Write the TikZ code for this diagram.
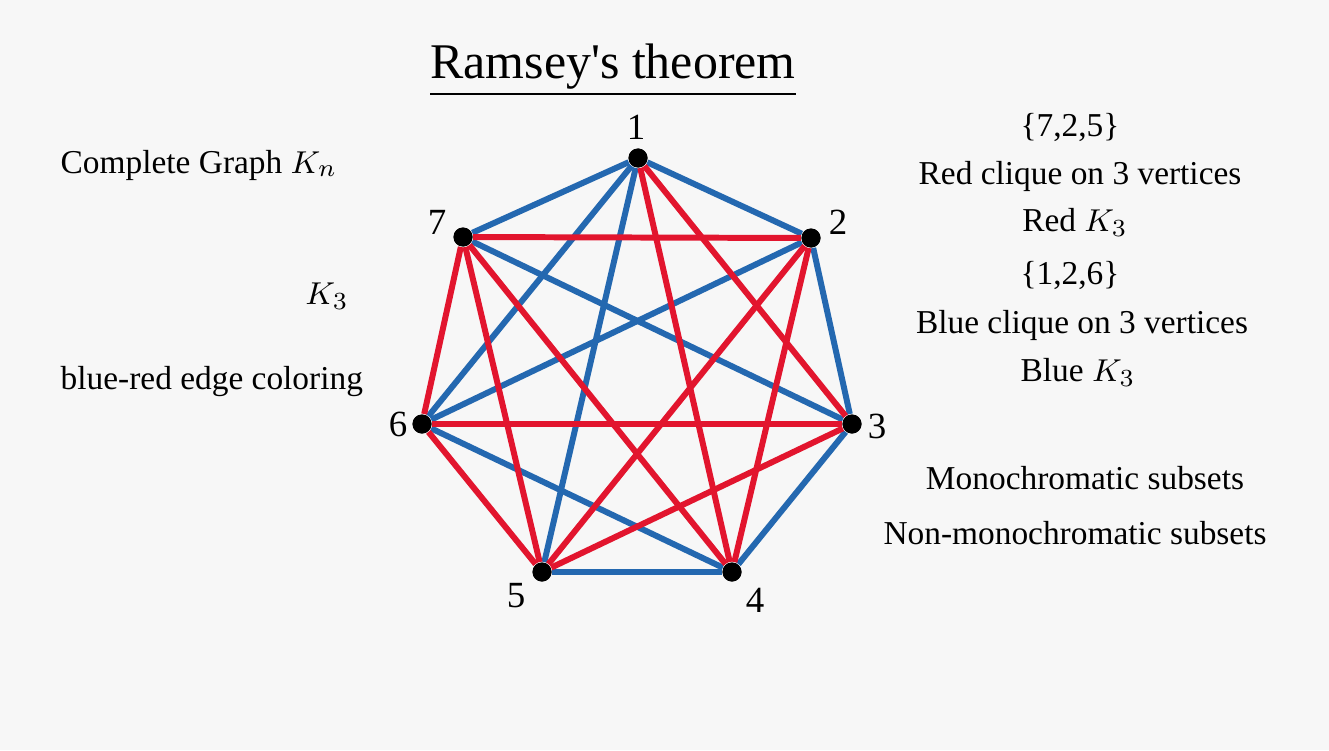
\documentclass[tikz,border=0pt]{standalone}
\usepackage{fontspec}
\setmainfont{Liberation Serif}
\usepackage{xcolor}
\usepackage{tikz}
\definecolor{edgeblue}{HTML}{2468B0}
\definecolor{edgered}{HTML}{E2152E}
\definecolor{paper}{HTML}{F7F7F7}

\begin{document}
\begin{tikzpicture}[
    vtx/.style={circle, fill=black, inner sep=0pt, minimum size=0.19cm},
    bedge/.style={draw=edgeblue, line width=1.7pt},
    redge/.style={draw=edgered, line width=1.7pt},
    num/.style={font=\fontsize{10.5}{12}\selectfont},
    txt/.style={font=\fontsize{9.5}{11}\selectfont, inner sep=0pt}]
  \fill[paper] (0,0) rectangle (13.29,7.5);
  \useasboundingbox (0,0) rectangle (13.29,7.5);

  % title
  \node (title) at (6.13,6.80) {\fontsize{14.2}{17}\selectfont\underline{Ramsey\textquotesingle s theorem}};

  % vertices of K_7
  \node[vtx] (v1) at (6.38,5.92) {};
  \node[vtx] (v2) at (8.11,5.12) {};
  \node[vtx] (v3) at (8.52,3.26) {};
  \node[vtx] (v4) at (7.32,1.78) {};
  \node[vtx] (v5) at (5.42,1.78) {};
  \node[vtx] (v6) at (4.22,3.26) {};
  \node[vtx] (v7) at (4.63,5.13) {};

  \node[num] (n1) at (6.36,6.23) {1};
  \node[num] (n2) at (8.38,5.28) {2};
  \node[num] (n3) at (8.77,3.24) {3};
  \node[num] (n4) at (7.55,1.50) {4};
  \node[num] (n5) at (5.16,1.54) {5};
  \node[num] (n6) at (3.98,3.26) {6};
  \node[num] (n7) at (4.37,5.28) {7};

  % blue edges
  \foreach \a/\b in {1/2,1/5,1/6,1/7,2/3,2/6,3/4,3/7,4/5,4/6}
    \draw[bedge] (v\a) -- (v\b);
  % red edges
  \foreach \a/\b in {1/3,1/4,2/4,2/5,2/7,3/5,3/6,4/7,5/6,5/7,6/7}
    \draw[redge] (v\a) -- (v\b);

  % dots on top
  \foreach \i in {1,...,7}
    \fill (v\i) circle (0.095);

  % left column
  \node[txt, anchor=west] (complete) at (0.60,5.85) {Complete Graph $K_n$};
  \node[txt] (kthree) at (3.27,4.54) {$K_3$};
  \node[txt, anchor=west] (coloring) at (0.60,3.68) {blue-red edge coloring};

  % right column
  \node[txt] (redset) at (10.70,6.23) {\{7,2,5\}};
  \node[txt] (redclq) at (10.80,5.74) {Red clique on 3 vertices};
  \node[txt] (redk) at (10.75,5.28) {Red $K_3$};
  \node[txt] (blueset) at (10.70,4.75) {\{1,2,6\}};
  \node[txt] (blueclq) at (10.82,4.25) {Blue clique on 3 vertices};
  \node[txt] (bluek) at (10.78,3.78) {Blue $K_3$};
  \node[txt] (mono) at (10.85,2.72) {Monochromatic subsets};
  \node[txt] (nonmono) at (10.75,2.17) {Non-monochromatic subsets};
\end{tikzpicture}
\end{document}
